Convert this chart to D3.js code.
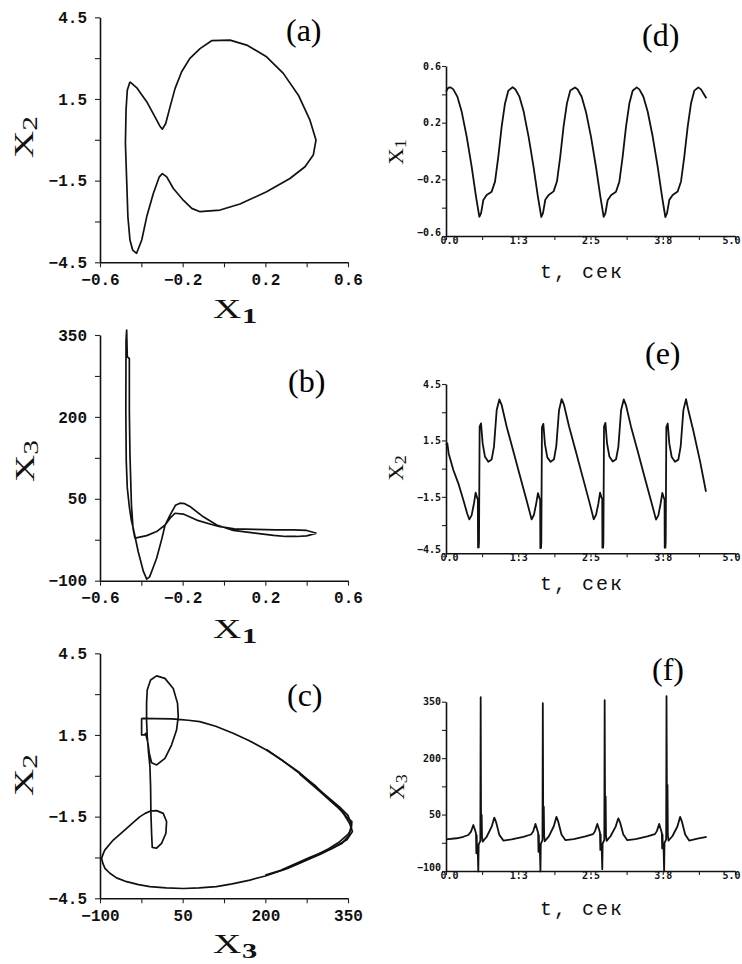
<!DOCTYPE html>
<html><head><meta charset="utf-8">
<script src="https://cdn.jsdelivr.net/npm/d3@7"></script>
<style>
body{margin:0;background:#fff;}
svg{display:block;}
</style></head><body>
<svg id="chart" width="742" height="964"></svg>
<script>
// ---------- DATA ----------
// (a) phase portrait: x1 vs x2
const phaseA = [[-0.455,2.13],[-0.423,1.92],[-0.374,1.40],[-0.334,0.84],[-0.310,0.50],[-0.298,0.39],[-0.282,0.60],[-0.261,1.21],[-0.237,1.88],[-0.205,2.50],[-0.165,2.99],[-0.116,3.35],[-0.060,3.64],[0.029,3.66],[0.110,3.48],[0.206,3.05],[0.287,2.44],[0.360,1.64],[0.416,0.72],[0.445,-0.01],[0.432,-0.56],[0.392,-0.99],[0.319,-1.42],[0.206,-1.91],[0.077,-2.36],[-0.019,-2.58],[-0.116,-2.64],[-0.156,-2.52],[-0.197,-2.22],[-0.245,-1.79],[-0.277,-1.36],[-0.298,-1.24],[-0.313,-1.36],[-0.342,-1.97],[-0.374,-2.83],[-0.398,-3.68],[-0.423,-4.17],[-0.442,-4.05],[-0.455,-3.68],[-0.465,-2.83],[-0.471,-1.48],[-0.477,-0.13],[-0.474,1.09],[-0.468,1.82],[-0.455,2.13]];

// (b) phase portrait: x1 vs x3
const phaseB = [[0.448,-13],[0.40,-8],[0.335,-7],[0.25,-7],[0.15,-6],[0.05,-5],[-0.019,-1],[-0.052,2],[-0.132,11],[-0.197,22],[-0.237,23.5],[-0.261,14.5],[-0.285,2],[-0.326,-10],[-0.374,-17.5],[-0.431,-22],[-0.440,-5],[-0.448,40],[-0.455,130],[-0.458,210],[-0.458,307],[-0.468,310],[-0.471,359],[-0.474,340],[-0.475,210],[-0.473,120],[-0.468,70],[-0.458,35],[-0.448,10],[-0.439,-4],[-0.415,-47],[-0.390,-83],[-0.374,-97],[-0.360,-93],[-0.345,-78],[-0.326,-59],[-0.300,-22],[-0.285,2],[-0.261,20],[-0.235,38],[-0.213,42],[-0.190,41],[-0.165,36],[-0.100,17],[-0.035,2],[0.045,-8],[0.15,-13],[0.24,-17],[0.30,-19],[0.35,-19],[0.40,-18],[0.448,-13]];

// (c) phase portrait: x3 vs x2
const phaseC = [[-24.5,2.11],[0,2.10],[30,2.09],[42,2.07],[60,2.04],[81,1.99],[110,1.82],[141.5,1.56],[170,1.30],[202,0.95],[232,0.55],[262,0.09],[290,-0.35],[310.6,-0.77],[330,-1.12],[347,-1.50],[357,-1.68],[356,-1.95],[350,-2.15],[335,-2.42],[315,-2.68],[292.5,-2.91],[262,-3.20],[232,-3.46],[200,-3.68],[172,-3.83],[140,-3.97],[111,-4.07],[80,-4.12],[51,-4.14],[20,-4.12],[-9.4,-4.07],[-30,-4.00],[-51.7,-3.89],[-70,-3.75],[-82,-3.58],[-91,-3.40],[-95,-3.21],[-97,-3.03],[-94,-2.85],[-91,-2.72],[-84,-2.55],[-76,-2.36],[-64,-2.15],[-51.7,-1.93],[-40,-1.72],[-27.5,-1.50],[-18,-1.38],[-9.4,-1.30],[2.7,-1.28],[14.7,-1.38],[20.8,-1.68],[19.6,-2.11],[11.7,-2.48],[2.7,-2.66],[-5.2,-2.63],[-6.4,-2.11],[-7.6,-1.38],[-8.2,-0.40],[-9.4,0.34],[-11.8,0.83],[-14.3,1.44],[-15.5,2.05],[-15.5,2.66],[-14.3,3.15],[-8.2,3.52],[2.7,3.67],[17.8,3.58],[32.9,3.21],[40.7,2.66],[42,2.17],[38.9,1.68],[29.8,1.13],[17.8,0.64],[2.7,0.40],[-6.4,0.48],[-10.6,0.83],[-13,1.20],[-17.3,1.56],[-18.5,1.50],[-24.5,1.50],[-24.5,2.11]];
const phaseC2 = [[202,0.97],[262,0.12],[300,-0.55],[335,-1.15],[350,-1.45],[356,-1.80],[352,-2.20],[338,-2.50],[300,-2.88],[240,-3.40],[200,-3.65]];
const phaseC3 = [[262,0.07],[305,-0.68],[340,-1.32],[353,-1.75],[358,-2.05],[348,-2.35],[320,-2.68],[280,-3.00],[230,-3.45]];

// (d) time series x1(t)
const seriesD = [[0.000,0.419],[0.040,0.447],[0.081,0.449],[0.127,0.435],[0.196,0.384],[0.271,0.278],[0.358,0.101],[0.444,-0.111],[0.519,-0.322],[0.577,-0.464],[0.606,-0.440],[0.646,-0.346],[0.704,-0.311],[0.790,-0.287],[0.848,-0.216],[0.905,-0.040],[0.963,0.172],[1.021,0.336],[1.078,0.426],
[1.153,0.450],[1.199,0.436],[1.268,0.386],[1.343,0.280],[1.430,0.098],[1.516,-0.115],[1.591,-0.325],[1.649,-0.466],[1.678,-0.438],[1.718,-0.344],[1.776,-0.310],[1.862,-0.285],[1.920,-0.214],[1.977,-0.038],[2.035,0.175],[2.093,0.338],[2.150,0.427],
[2.232,0.449],[2.278,0.434],[2.347,0.383],[2.422,0.276],[2.509,0.100],[2.595,-0.113],[2.670,-0.320],[2.728,-0.465],[2.757,-0.441],[2.797,-0.347],[2.855,-0.312],[2.941,-0.288],[2.999,-0.217],[3.056,-0.041],[3.114,0.170],[3.172,0.335],[3.229,0.425],
[3.299,0.449],[3.345,0.435],[3.414,0.385],[3.489,0.279],[3.576,0.102],[3.662,-0.110],[3.737,-0.321],[3.795,-0.466],[3.824,-0.439],[3.864,-0.345],[3.922,-0.311],[4.008,-0.286],[4.066,-0.215],[4.123,-0.039],[4.181,0.171],[4.239,0.337],[4.296,0.426],
[4.366,0.449],[4.412,0.435],[4.470,0.395],[4.505,0.372]];

// (e) time series x2(t)
const seriesE = [[0.000,1.26],[0.023,1.34],[0.046,0.81],[0.127,-0.07],[0.213,-0.78],[0.300,-1.67],[0.369,-2.41],[0.404,-2.70],[0.444,-2.47],[0.484,-1.85],[0.513,-1.28],[0.542,-1.58],[0.551,-1.62],[0.554,-4.19],[0.557,-2.40],[0.560,-4.15],[0.566,-4.19],[0.571,-3.90],[0.582,2.23],[0.606,2.41],[0.634,1.34],[0.675,0.63],[0.732,0.37],[0.790,0.49],[0.830,1.17],[0.877,3.12],[0.923,3.68],[0.963,3.38],[1.050,2.23],[1.165,0.92],[1.280,-0.39],[1.396,-1.71],
[1.482,-2.70],[1.522,-2.45],[1.562,-1.83],[1.591,-1.30],[1.620,-1.60],[1.629,-1.65],[1.632,-4.22],[1.635,-2.35],[1.638,-4.18],[1.644,-4.22],[1.649,-3.88],[1.660,2.20],[1.684,2.38],[1.712,1.30],[1.753,0.60],[1.810,0.36],[1.868,0.50],[1.908,1.20],[1.955,3.10],[2.001,3.70],[2.041,3.40],[2.128,2.25],[2.243,0.95],[2.358,-0.37],[2.474,-1.70],
[2.556,-2.69],[2.596,-2.46],[2.636,-1.86],[2.665,-1.27],[2.694,-1.57],[2.703,-1.60],[2.706,-4.20],[2.709,-2.30],[2.712,-4.17],[2.718,-4.20],[2.723,-3.92],[2.734,2.24],[2.758,2.43],[2.786,1.35],[2.827,0.64],[2.884,0.38],[2.942,0.50],[2.982,1.16],[3.029,3.10],[3.075,3.68],[3.115,3.36],[3.202,2.22],[3.317,0.93],[3.432,-0.40],[3.548,-1.72],
[3.634,-2.71],[3.674,-2.48],[3.714,-1.84],[3.743,-1.29],[3.772,-1.59],[3.781,-1.63],[3.784,-4.20],[3.787,-2.38],[3.790,-4.16],[3.796,-4.20],[3.801,-3.89],[3.812,2.21],[3.836,2.40],[3.864,1.33],[3.905,0.62],[3.962,0.37],[4.020,0.48],[4.060,1.18],[4.107,3.11],[4.153,3.69],[4.193,3.10],[4.280,2.00],[4.395,0.40],[4.498,-1.23]];

// (f) time series x3(t)
const seriesF = [[0.000,-15.8],[0.185,-13],[0.300,-9],[0.386,-4.3],[0.433,4.6],[0.473,22.3],[0.502,9],[0.519,0],[0.525,-53],[0.531,-5],[0.536,-53],[0.548,-40],[0.559,-101],[0.565,-30],[0.594,-20],[0.600,362],[0.606,49],[0.612,-8],[0.617,49],[0.623,-8],[0.634,-22],[0.704,-9],[0.790,17.8],[0.836,42],[0.865,31],[0.923,-4],[0.992,-19],[1.136,-15.8],[1.338,-9],[1.470,-3],
[1.508,5],[1.548,25],[1.577,10],[1.594,1],[1.600,-49],[1.606,-4],[1.611,-49],[1.623,-38],[1.634,-101],[1.640,-28],[1.669,-18],[1.675,346],[1.681,71],[1.687,-6],[1.692,71],[1.698,-6],[1.709,-21],[1.779,-8],[1.865,19],[1.911,44],[1.940,32],[1.998,-3],[2.067,-18],[2.211,-15],[2.413,-8],[2.545,-2],
[2.578,6],[2.618,25],[2.647,11],[2.664,2],[2.670,-44],[2.676,-3],[2.681,-44],[2.693,-35],[2.704,-95],[2.710,-27],[2.739,-17],[2.745,354],[2.751,98],[2.757,-5],[2.762,98],[2.768,-5],[2.779,-20],[2.849,-7],[2.935,18],[2.981,40],[3.010,30],[3.068,-3],[3.137,-18],[3.281,-15],[3.483,-8],[3.615,-2],
[3.648,6],[3.688,25],[3.717,10],[3.734,1],[3.740,-40],[3.746,-3],[3.751,-40],[3.763,-33],[3.774,-101],[3.780,-26],[3.809,-16],[3.815,365],[3.821,129],[3.827,-4],[3.832,129],[3.838,-4],[3.849,-19],[3.919,-7],[4.005,19],[4.051,44],[4.080,32],[4.138,-3],[4.207,-19],[4.351,-14],[4.510,-9]];

// ticks
const x1Ticks = [-0.6,-0.4,-0.2,0,0.2,0.4,0.6];
const x1Labels = [-0.6,-0.2,0.2,0.6];
const x2Ticks = [-4.5,-3,-1.5,0,1.5,3,4.5];
const x2Labels = [-4.5,-1.5,1.5,4.5];
const x3Ticks = [-100,-25,50,125,200,275,350];
const x3Labels = [-100,50,200,350];
const tTicks = [0,0.625,1.25,1.875,2.5,3.125,3.75,4.375,5];
const tLabels = [0,1.25,2.5,3.75,5];
const tAxisTitle = "t, сек";

// ---------- DRAWING ----------
const svg = d3.select('#chart');
svg.append('rect').attr('width',742).attr('height',964).attr('fill','#fff');
const f1 = d3.format('.1f'), fd = d3.format('d');

function panel(p){
  const x = d3.scaleLinear().domain(p.xd).range([p.left, p.right]);
  const y = d3.scaleLinear().domain(p.yd).range([p.bottom, p.top]);
  const g = svg.append('g');
  const has = (arr,v)=>arr.some(l=>Math.abs(l-v)<1e-9);
  const xa = d3.axisBottom(x).tickValues(p.xTicks).tickSize(p.tick).tickSizeOuter(0).tickPadding(p.padX)
    .tickFormat(v=>has(p.xLabels,v)?p.fx(v):'');
  const ya = d3.axisLeft(y).tickValues(p.yTicks).tickSize(p.tick).tickSizeOuter(0).tickPadding(p.padY)
    .tickFormat(v=>has(p.yLabels,v)?p.fy(v):'');
  const gx = g.append('g').attr('transform',`translate(0,${p.bottom})`).call(xa);
  const gy = g.append('g').attr('transform',`translate(${p.left},0)`).call(ya);
  [gx,gy].forEach(a=>{
    a.select('.domain').attr('stroke','#111').attr('stroke-width',1.6);
    a.selectAll('.tick line').attr('stroke','#222').attr('stroke-width',1.1);
    a.selectAll('.tick text').attr('fill','#111').attr('font-family',p.ff)
      .attr('font-weight','bold').attr('font-size',p.fs);
  });
  if (p.right > 400) {
    gx.selectAll('.tick text').filter(v=>v===p.xd[1]).attr('dx',-4);
    gx.selectAll('.tick text').filter(v=>v===p.xd[0]).attr('dx',3);
    gy.selectAll('.tick text').filter(v=>v===p.yd[0]).attr('dy','-0.05em');
  }
  const line = d3.line().x(d=>x(d[0])).y(d=>y(d[1]));
  p.series.forEach(s=>{
    g.append('path').datum(s).attr('d',line).attr('fill','none')
      .attr('stroke','#111').attr('stroke-width',p.sw).attr('stroke-linejoin','round');
  });
  g.append('text').attr('x',p.lx).attr('y',p.ly).text(p.letter)
    .attr('font-family','Liberation Serif, serif').attr('font-size',32).attr('fill','#000');
  return {x,y,g};
}

function xTitle(x,y,sub){
  const t = svg.append('text').attr('transform',`translate(${x},${y}) scale(1.45,1)`)
    .attr('font-family','Liberation Serif, serif').attr('fill','#111');
  t.append('tspan').text('X').attr('font-size',27);
  t.append('tspan').text(sub).attr('font-size',21).attr('font-weight','bold').attr('dy',5).attr('dx',0.5);
}
function yTitle(x,y,sub,size,sc){
  const t = svg.append('text').attr('transform',`translate(${x},${y}) rotate(-90) scale(${sc},1)`)
    .attr('font-family','Liberation Serif, serif').attr('fill','#111').attr('text-anchor','middle');
  t.append('tspan').text('X').attr('font-size',size);
  t.append('tspan').text(sub).attr('font-size',size*0.78).attr('dy',size*0.15);
}
function tTitle(x,y){
  svg.append('text').attr('x',x).attr('y',y).text(tAxisTitle)
    .attr('font-family','Liberation Mono, monospace').attr('font-size',20)
    .attr('letter-spacing',2).attr('fill','#111');
}

const L = {left:100,right:348,tick:5,padX:6,padY:8,fs:16,sw:1.7,ff:'Liberation Mono, monospace'};
const R = {left:446,right:735,tick:4,padX:-3,padY:1,fs:10,sw:1.8,ff:'DejaVu Sans Mono, monospace'};

panel(Object.assign({},L,{top:17.3,bottom:262.3,xd:[-0.6,0.6],yd:[-4.5,4.5],xTicks:x1Ticks,xLabels:x1Labels,yTicks:x2Ticks,yLabels:x2Labels,fx:f1,fy:f1,series:[phaseA],letter:'(a)',lx:286,ly:41}));
panel(Object.assign({},L,{top:335,bottom:580.7,xd:[-0.6,0.6],yd:[-100,350],xTicks:x1Ticks,xLabels:x1Labels,yTicks:x3Ticks,yLabels:x3Labels,fx:f1,fy:fd,series:[phaseB],letter:'(b)',lx:288,ly:392}));
panel(Object.assign({},L,{top:653.3,bottom:898.3,xd:[-100,350],yd:[-4.5,4.5],xTicks:x3Ticks,xLabels:x3Labels,yTicks:x2Ticks,yLabels:x2Labels,fx:fd,fy:f1,series:[phaseC,phaseC2,phaseC3],letter:'(c)',lx:287,ly:706}));

panel(Object.assign({},R,{top:66,bottom:236,xd:[0,5],yd:[-0.6,0.6],xTicks:tTicks,xLabels:tLabels,yTicks:x1Ticks,yLabels:x1Labels,fx:f1,fy:f1,series:[seriesD],letter:'(d)',lx:642,ly:46}));
panel(Object.assign({},R,{top:384,bottom:553.3,xd:[0,5],yd:[-4.5,4.5],xTicks:tTicks,xLabels:tLabels,yTicks:x2Ticks,yLabels:x2Labels,fx:f1,fy:f1,series:[seriesE],letter:'(e)',lx:645,ly:364}));
panel(Object.assign({},R,{top:701.7,bottom:871,xd:[0,5],yd:[-100,350],xTicks:tTicks,xLabels:tLabels,yTicks:x3Ticks,yLabels:x3Labels,fx:f1,fy:fd,series:[seriesF],letter:'(f)',lx:652,ly:680}));

// axis titles
xTitle(213,318,'1');
xTitle(213,638,'1');
xTitle(213,953,'3');
yTitle(33,137,'2',27,1.4);
yTitle(34,461,'3',27,1.4);
yTitle(33,775,'2',27,1.4);
yTitle(403,152,'1',21,1.1);
yTitle(403,468,'2',21,1.1);
yTitle(404,787,'3',21,1.1);
tTitle(540,278);
tTitle(540,590);
tTitle(540,915);
</script>
</body></html>
